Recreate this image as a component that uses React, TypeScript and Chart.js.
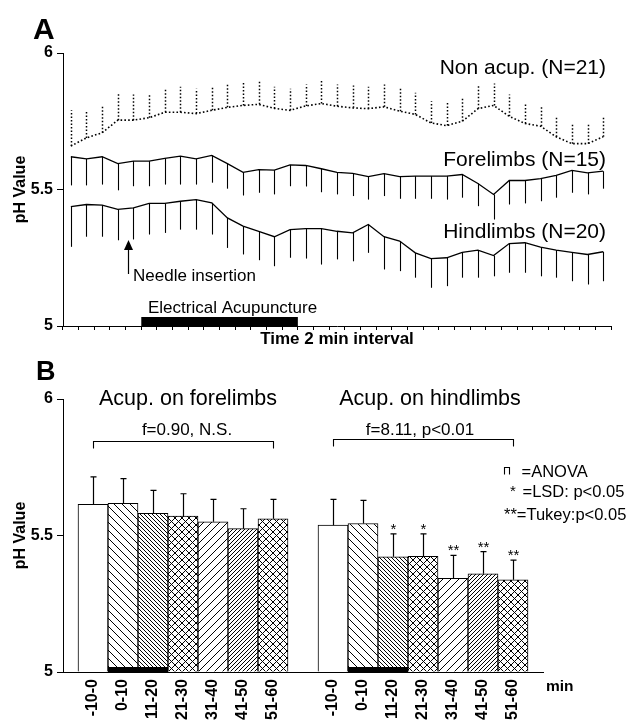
import React, { useEffect, useRef } from 'react';
import { Chart, registerables } from 'chart.js';

Chart.register(...registerables);

// ---------------- DATA ----------------
// Panel A: 35 consecutive 2-min intervals
const timeLabels = ['1', '2', '3', '4', '5', '6', '7', '8', '9', '10', '11', '12', '13', '14', '15', '16', '17', '18', '19', '20', '21', '22', '23', '24', '25', '26', '27', '28', '29', '30', '31', '32', '33', '34', '35'];

const nonAcupMean = [5.659, 5.689, 5.708, 5.754, 5.754, 5.763, 5.783, 5.783, 5.778, 5.790, 5.801, 5.808, 5.812, 5.797, 5.790, 5.806, 5.815, 5.805, 5.799, 5.796, 5.803, 5.787, 5.775, 5.744, 5.734, 5.750, 5.796, 5.808, 5.768, 5.742, 5.732, 5.693, 5.668, 5.668, 5.693];
const nonAcupSem = [0.131, 0.101, 0.100, 0.100, 0.094, 0.088, 0.090, 0.093, 0.091, 0.086, 0.086, 0.083, 0.085, 0.079, 0.079, 0.079, 0.082, 0.080, 0.082, 0.080, 0.082, 0.082, 0.079, 0.079, 0.086, 0.082, 0.085, 0.080, 0.080, 0.069, 0.076, 0.075, 0.074, 0.070, 0.073];

const foreMean = [5.620, 5.612, 5.620, 5.595, 5.604, 5.604, 5.614, 5.622, 5.612, 5.625, 5.595, 5.563, 5.573, 5.571, 5.590, 5.588, 5.576, 5.563, 5.559, 5.547, 5.558, 5.547, 5.549, 5.549, 5.549, 5.555, 5.522, 5.482, 5.533, 5.533, 5.540, 5.552, 5.570, 5.561, 5.567];
const foreSem = [0.105, 0.097, 0.102, 0.098, 0.092, 0.092, 0.096, 0.104, 0.094, 0.100, 0.092, 0.085, 0.085, 0.089, 0.078, 0.077, 0.086, 0.081, 0.083, 0.084, 0.082, 0.081, 0.083, 0.083, 0.086, 0.085, 0.083, 0.092, 0.088, 0.084, 0.083, 0.082, 0.082, 0.079, 0.064];

const hindMean = [5.437, 5.445, 5.443, 5.427, 5.433, 5.449, 5.449, 5.457, 5.463, 5.451, 5.396, 5.366, 5.347, 5.327, 5.353, 5.357, 5.357, 5.347, 5.341, 5.372, 5.327, 5.311, 5.268, 5.247, 5.250, 5.270, 5.278, 5.258, 5.302, 5.305, 5.289, 5.278, 5.270, 5.262, 5.272];
const hindSem = [0.147, 0.118, 0.116, 0.113, 0.116, 0.114, 0.108, 0.104, 0.110, 0.116, 0.110, 0.104, 0.106, 0.108, 0.103, 0.110, 0.132, 0.103, 0.104, 0.104, 0.120, 0.110, 0.091, 0.107, 0.104, 0.093, 0.101, 0.076, 0.107, 0.110, 0.107, 0.101, 0.106, 0.110, 0.108];

const seriesNames = ['Non acup. (N=21)', 'Forelimbs (N=15)', 'Hindlimbs (N=20)'];

// Panel B: 10-min bins
const binLabels = ['-10-0', '0-10', '11-20', '21-30', '31-40', '41-50', '51-60'];
const foreBarMean = [5.614, 5.618, 5.581, 5.571, 5.550, 5.525, 5.561];
const foreBarSem = [0.101, 0.090, 0.084, 0.082, 0.082, 0.073, 0.071];
const foreSig = ['', '', '', '', '', '', ''];
const hindBarMean = [5.538, 5.544, 5.422, 5.424, 5.343, 5.360, 5.338];
const hindBarSem = [0.094, 0.085, 0.084, 0.082, 0.084, 0.081, 0.072];
const hindSig = ['', '', '*', '*', '**', '**', '**'];
const stimBins = ['0-10', '11-20'];

const yTicks = [5, 5.5, 6];

// ---------------- STYLE ----------------
const FONT = '"Liberation Sans", Arial, Helvetica, sans-serif';
const hatchKinds = ['none', 'back', 'back', 'cross', 'fwd', 'fwd', 'cross'];
const hatchSizes = [0, 8, 4, 7, 8, 4, 7];

function makePattern(kind: string, s: number): any {
  if (kind === 'none') return '#ffffff';
  const c = document.createElement('canvas');
  c.width = s;
  c.height = s;
  const g = c.getContext('2d')!;
  g.fillStyle = '#ffffff';
  g.fillRect(0, 0, s, s);
  g.strokeStyle = '#000000';
  g.lineWidth = 1;
  g.beginPath();
  for (let k = -1; k <= 1; k++) {
    if (kind === 'back' || kind === 'cross') {
      g.moveTo(k * s, 0);
      g.lineTo(k * s + s, s);
    }
    if (kind === 'fwd' || kind === 'cross') {
      g.moveTo(k * s, s);
      g.lineTo(k * s + s, 0);
    }
  }
  g.stroke();
  return g.createPattern(c, 'repeat');
}

function text(ctx: CanvasRenderingContext2D, s: string, x: number, y: number, size: number, bold = false, align: CanvasTextAlign = 'left', baseline: CanvasTextBaseline = 'middle') {
  ctx.save();
  ctx.fillStyle = '#000';
  ctx.font = `${bold ? 'bold ' : ''}${size}px ${FONT}`;
  ctx.textAlign = align;
  ctx.textBaseline = baseline;
  ctx.fillText(s, x, y);
  ctx.restore();
}

function yAxisOptions() {
  return {
    type: 'linear',
    min: 5,
    max: 6,
    afterBuildTicks: (s: any) => {
      s.ticks = yTicks.map((v) => ({ value: v }));
    },
    ticks: {
      callback: (v: any) => String(v),
      font: { family: FONT, size: 16, weight: 'bold' },
      color: '#000',
      padding: 4,
    },
    grid: { display: true, drawOnChartArea: false, drawTicks: true, tickLength: 6, color: '#000', lineWidth: 1 },
    border: { display: true, color: '#000', width: 1 },
    title: {
      display: true,
      text: 'pH Value',
      color: '#000',
      font: { family: FONT, size: 16, weight: 'bold' },
      padding: { top: 11, bottom: 0 },
    },
    afterFit: (s: any) => {
      s.width = 63;
    },
  };
}

const panelAPlugin = {
  id: 'panelA',
  afterDatasetsDraw(chart: any) {
    const ctx = chart.ctx as CanvasRenderingContext2D;
    const yS = chart.scales.y;
    chart.data.datasets.forEach((ds: any, di: number) => {
      const meta = chart.getDatasetMeta(di);
      ctx.save();
      ctx.strokeStyle = '#000';
      ctx.lineWidth = ds.dotted ? 1.5 : 1.1;
      ctx.setLineDash(ds.dotted ? [1.5, 2] : []);
      meta.data.forEach((pt: any, i: number) => {
        const v = ds.data[i];
        const e = ds.errors[i];
        const yEnd = yS.getPixelForValue(v + ds.errDir * e);
        const x = Math.round(pt.x) + 0.5;
        ctx.beginPath();
        ctx.moveTo(x, pt.y);
        ctx.lineTo(x, yEnd);
        ctx.stroke();
      });
      ctx.restore();
    });
  },
  afterDraw(chart: any) {
    const ctx = chart.ctx as CanvasRenderingContext2D;
    const xS = chart.scales.x;
    const area = chart.chartArea;
    // panel letter
    text(ctx, 'A', 33, 38.5, 30, true, 'left', 'alphabetic');
    // series labels
    const labelY = [68, 160, 232];
    seriesNames.forEach((n, i) => text(ctx, n, 606, labelY[i], 21, false, 'right'));
    // electrical acupuncture bar (intervals 6..15)
    const x0 = xS.getPixelForValue(4.5);
    const x1 = xS.getPixelForValue(14.5);
    ctx.save();
    ctx.fillStyle = '#000';
    ctx.fillRect(x0, area.bottom - 9, x1 - x0, 9);
    ctx.restore();
    text(ctx, 'Electrical Acupuncture', 148, 308, 17);
    // needle insertion arrow
    const ax = Math.round(xS.getPixelForValue(3.65)) + 0.5;
    ctx.save();
    ctx.strokeStyle = '#000';
    ctx.fillStyle = '#000';
    ctx.lineWidth = 1.2;
    ctx.beginPath();
    ctx.moveTo(ax, 248);
    ctx.lineTo(ax, 274);
    ctx.stroke();
    ctx.beginPath();
    ctx.moveTo(ax, 240);
    ctx.lineTo(ax - 4.5, 250);
    ctx.lineTo(ax + 4.5, 250);
    ctx.closePath();
    ctx.fill();
    ctx.restore();
    text(ctx, 'Needle insertion', 133, 276, 17);
  },
};

const panelBPlugin = {
  id: 'panelB',
  afterDatasetsDraw(chart: any) {
    const ctx = chart.ctx as CanvasRenderingContext2D;
    const yS = chart.scales.y;
    const ds = chart.data.datasets[0];
    const meta = chart.getDatasetMeta(0);
    const area = chart.chartArea;
    ctx.save();
    ctx.strokeStyle = '#000';
    ctx.lineWidth = 1.2;
    meta.data.forEach((bar: any, i: number) => {
      const v = ds.data[i];
      if (v == null) return;
      const top = yS.getPixelForValue(v + ds.errors[i]);
      const x = Math.round(bar.x) + 0.5;
      ctx.beginPath();
      ctx.moveTo(x, bar.y);
      ctx.lineTo(x, top);
      ctx.moveTo(x - 3, top);
      ctx.lineTo(x + 3, top);
      ctx.stroke();
      if (ds.sig[i]) text(ctx, ds.sig[i], x, top, 15, false, 'center', 'alphabetic');
      if (stimBins.includes(chart.data.labels[i])) {
        ctx.fillStyle = '#000';
        ctx.fillRect(bar.x - bar.width / 2, area.bottom - 5, bar.width, 5);
      }
    });
    ctx.restore();
  },
  afterDraw(chart: any) {
    const ctx = chart.ctx as CanvasRenderingContext2D;
    const meta = chart.getDatasetMeta(0);
    text(ctx, 'B', 36, 29.5, 27, true, 'left', 'alphabetic');
    text(ctx, 'Acup. on forelimbs', 188, 49.5, 21.5, false, 'center');
    text(ctx, 'Acup. on hindlimbs', 430, 49.5, 21.5, false, 'center');
    text(ctx, 'f=0.90, N.S.', 187, 80, 17, false, 'center');
    text(ctx, 'f=8.11, p<0.01', 420, 80, 17, false, 'center');
    // ANOVA brackets
    ctx.save();
    ctx.strokeStyle = '#000';
    ctx.lineWidth = 1.1;
    const brackets = [
      [1, 7, 91.5],
      [9, 15, 89.5],
    ];
    brackets.forEach(([a, b, y]) => {
      const xa = Math.round(meta.data[a].x) + 0.5;
      const xb = Math.round(meta.data[b].x) + 0.5;
      ctx.beginPath();
      ctx.moveTo(xa, y + 7);
      ctx.lineTo(xa, y);
      ctx.lineTo(xb, y);
      ctx.lineTo(xb, y + 7);
      ctx.stroke();
    });
    // legend bracket symbol
    ctx.beginPath();
    ctx.moveTo(504.5, 124.5);
    ctx.lineTo(504.5, 117.5);
    ctx.lineTo(509.5, 117.5);
    ctx.lineTo(509.5, 124.5);
    ctx.stroke();
    ctx.restore();
    text(ctx, '=ANOVA', 521.5, 122.5, 16.5);
    text(ctx, '*', 513, 146, 15, false, 'center', 'alphabetic');
    text(ctx, '=LSD: p<0.05', 522.5, 142.5, 16.5);
    text(ctx, '**=Tukey:p<0.05', 504, 165, 16.5);
    text(ctx, 'min', 546, 337, 15.5, true);
  },
};

export default function App() {
  const refA = useRef<HTMLCanvasElement>(null);
  const refB = useRef<HTMLCanvasElement>(null);

  useEffect(() => {
    const errDirs = [1, -1, -1];
    const means = [nonAcupMean, foreMean, hindMean];
    const sems = [nonAcupSem, foreSem, hindSem];

    const chartA = new Chart(refA.current as HTMLCanvasElement, {
      type: 'line',
      data: {
        labels: timeLabels,
        datasets: means.map((m, i) => ({
          label: seriesNames[i],
          data: m,
          errors: sems[i],
          errDir: errDirs[i],
          dotted: i === 0,
          borderColor: '#000',
          borderWidth: i === 0 ? 1.6 : 1.3,
          borderDash: i === 0 ? [1.6, 2.2] : [],
          pointRadius: 0,
          tension: 0,
          fill: false,
        })) as any,
      },
      options: {
        responsive: false,
        animation: false,
        layout: { padding: { left: 0, right: 21, top: 53, bottom: 0 } },
        plugins: { legend: { display: false }, tooltip: { enabled: false } },
        scales: {
          x: {
            type: 'category',
            offset: true,
            grid: { display: true, drawOnChartArea: false, drawTicks: true, tickLength: 4, offset: true, color: '#000', lineWidth: 1 },
            border: { display: true, color: '#000', width: 1 },
            ticks: { display: false },
            title: {
              display: true,
              text: 'Time 2 min interval',
              color: '#000',
              font: { family: FONT, size: 17, weight: 'bold' },
              padding: { top: 0, bottom: 0 },
            },
            afterFit: (s: any) => {
              s.height = 24;
            },
          } as any,
          y: yAxisOptions() as any,
        },
      },
      plugins: [panelAPlugin],
    });

    const slotLabels = ['', ...binLabels, '', ...binLabels, ''];
    const barValues = [null, ...foreBarMean, null, ...hindBarMean, null];
    const barErrors = [null, ...foreBarSem, null, ...hindBarSem, null];
    const barSig = ['', ...foreSig, '', ...hindSig, ''];
    const patterns = binLabels.map((_, i) => makePattern(hatchKinds[i], hatchSizes[i]));
    const barBg = slotLabels.map((_, i) => {
      if (i >= 1 && i <= 7) return patterns[i - 1];
      if (i >= 9 && i <= 15) return patterns[i - 9];
      return '#ffffff';
    });

    const chartB = new Chart(refB.current as HTMLCanvasElement, {
      type: 'bar',
      data: {
        labels: slotLabels,
        datasets: [
          {
            data: barValues,
            errors: barErrors,
            sig: barSig,
            backgroundColor: barBg,
            borderColor: '#000',
            borderWidth: 1,
            barThickness: 30,
            base: 5,
          } as any,
        ],
      },
      options: {
        responsive: false,
        animation: false,
        layout: { padding: { left: 0, right: 89, top: 49, bottom: 0 } },
        plugins: { legend: { display: false }, tooltip: { enabled: false } },
        scales: {
          x: {
            type: 'category',
            offset: false,
            grid: { display: false, drawTicks: false },
            border: { display: true, color: '#000', width: 1 },
            ticks: {
              autoSkip: false,
              minRotation: 90,
              maxRotation: 90,
              font: { family: FONT, size: 16, weight: 'bold' },
              color: '#000',
              padding: 7,
            },
            afterFit: (s: any) => {
              s.height = 98;
            },
          } as any,
          y: yAxisOptions() as any,
        },
      },
      plugins: [panelBPlugin],
    });

    return () => {
      chartA.destroy();
      chartB.destroy();
    };
  }, []);

  return (
    <div style={{ position: 'fixed', left: 0, top: 0, width: 632, height: 720, overflow: 'hidden', background: '#fff' }}>
      <canvas ref={refA} width={632} height={350} style={{ position: 'absolute', left: 0, top: 0, width: 632, height: 350 }} />
      <canvas ref={refB} width={632} height={420} style={{ position: 'absolute', left: 0, top: 350, width: 632, height: 420 }} />
    </div>
  );
}
